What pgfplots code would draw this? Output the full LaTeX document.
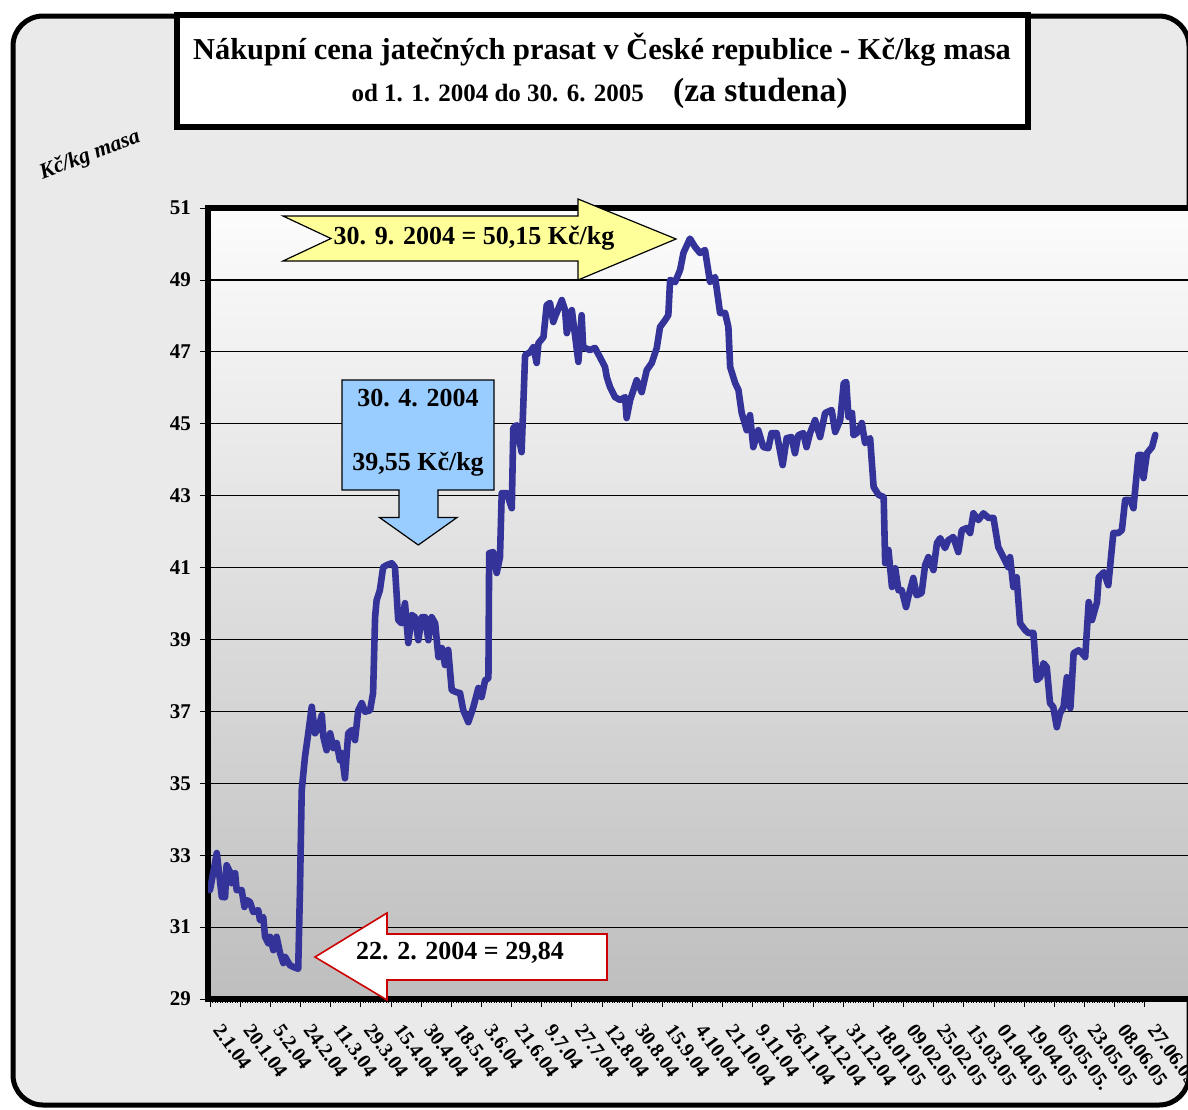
\documentclass[border=0pt]{standalone}
\usepackage{pgfplots}
\pgfplotsset{compat=1.18}
\usepackage{pgfplotstable}
\usepackage{fontspec}
\setmainfont{Liberation Serif}
\definecolor{linecol}{RGB}{51,51,153}
\definecolor{bgcol}{RGB}{234,234,234}
\definecolor{yel}{RGB}{255,255,153}
\definecolor{lblue}{RGB}{153,204,255}
\definecolor{redb}{RGB}{204,0,0}
\definecolor{plottop}{RGB}{252,252,252}
\definecolor{plotbot}{RGB}{190,190,190}

\pgfplotstableread{
idx val
0 32.03
2.7 33.06
4.7 31.84
6.0 31.83
6.6 32.72
8.0 32.53
8.6 32.22
10.0 32.50
10.6 32.03
12.6 32.03
13.7 31.56
14.6 31.75
15.9 31.70
17.2 31.42
19.2 31.47
19.9 31.19
21.2 31.28
21.9 30.73
23.2 30.55
23.9 30.73
25.2 30.36
26.5 30.73
27.9 30.27
29.2 30.00
29.9 30.17
31.8 29.94
33.2 29.89
35.1 29.84
35.8 32.03
36.5 34.81
37.8 35.74
39.1 36.39
40.5 37.13
41.8 36.39
43.1 36.53
44.5 36.90
45.1 36.29
46.4 35.92
47.8 36.39
49.1 35.98
50.4 36.12
51.7 35.64
52.4 35.84
53.7 35.14
55.0 36.39
56.4 36.48
57.7 36.20
59.0 37.03
60.4 37.23
61.7 36.99
63.7 37.03
64.9 37.51
65.7 39.62
66.3 40.09
67.6 40.37
68.9 41.01
70.4 41.07
72.3 41.12
73.6 41.01
74.9 39.54
76.3 39.45
77.6 40.01
78.9 38.90
80.3 39.68
81.6 39.62
82.9 38.98
84.3 39.62
85.6 39.62
86.9 38.98
88.2 39.62
89.6 39.45
90.9 38.51
92.3 38.76
93.5 38.29
94.8 38.71
96.2 37.59
98.2 37.53
99.5 37.51
100.8 37.03
102.8 36.70
104.8 37.12
106.8 37.65
108.1 37.40
109.5 37.87
110.8 37.92
111.1 41.40
112.7 41.43
114.1 40.85
115.4 41.29
116.1 43.07
118.1 43.07
120.1 42.65
120.7 44.88
122.0 44.96
124.0 44.21
125.4 46.91
127.4 46.99
128.7 47.13
130.0 46.69
130.7 47.24
132.7 47.41
134.0 48.30
135.3 48.36
136.6 47.83
137.3 47.97
140.0 48.44
141.3 48.16
142.0 47.52
144.0 48.16
146.6 46.72
147.9 48.02
148.5 47.13
151.2 47.05
153.2 47.11
155.2 46.85
157.2 46.58
157.9 46.30
159.2 46.02
161.2 45.74
163.2 45.66
165.2 45.74
165.8 45.16
167.2 45.66
169.8 46.21
171.8 45.88
173.8 46.49
175.8 46.69
177.8 47.11
179.1 47.69
181.1 47.88
182.4 48.02
183.1 49.00
185.1 48.94
187.1 49.28
188.4 49.75
191.0 50.15
193.0 49.92
195.0 49.75
197.0 49.83
199.0 48.94
201.0 49.08
203.0 48.08
205.0 48.08
206.3 47.69
207.0 46.58
209.0 46.13
210.3 45.94
211.6 45.30
213.6 44.82
214.9 45.24
216.2 44.35
218.2 44.82
220.2 44.35
222.2 44.32
223.5 44.74
225.5 44.74
227.9 43.85
229.5 44.60
231.4 44.63
232.8 44.18
234.1 44.68
236.1 44.74
237.4 44.35
238.8 44.74
240.8 45.10
242.8 44.63
244.8 45.30
247.4 45.38
248.8 44.77
250.8 45.10
252.2 46.13
253.2 46.16
254.1 45.19
255.5 45.30
256.1 44.68
257.4 44.74
259.4 45.02
260.7 44.46
262.7 44.60
264.1 43.24
266.1 43.02
268.1 42.96
268.7 41.12
270.0 41.49
271.4 40.46
272.7 40.98
274.0 40.37
275.3 40.37
277.0 39.90
277.9 40.18
279.9 40.71
281.2 40.23
283.2 40.29
284.6 41.07
285.9 41.29
287.9 40.93
289.3 41.68
290.6 41.82
292.5 41.54
293.8 41.76
295.8 41.85
297.8 41.43
299.2 42.04
301.2 42.10
302.5 41.96
303.8 42.51
305.8 42.32
307.8 42.51
309.8 42.38
311.8 42.38
313.7 41.57
315.7 41.29
317.7 41.01
318.4 41.29
319.7 40.46
321.0 40.73
322.4 39.45
324.4 39.26
325.7 39.18
327.7 39.18
329.0 37.87
330.4 37.95
331.7 38.34
333.0 38.23
334.3 37.23
335.6 37.12
337.0 36.56
338.3 36.95
339.7 37.12
341.0 37.95
342.4 37.09
343.7 38.62
345.7 38.70
347.0 38.62
348.3 38.51
349.7 40.04
351.0 39.54
353.0 40.04
353.7 40.73
355.7 40.87
357.5 40.51
359.5 41.96
361.5 41.96
362.9 42.04
364.2 42.88
366.2 42.88
367.5 42.65
369.5 44.13
370.8 44.13
371.5 43.49
372.9 44.18
374.9 44.35
376.2 44.69
}\pricedata

\begin{document}
\begin{tikzpicture}
\begin{scope}[x=0.5pt,y=-0.5pt]
\useasboundingbox (0,0) rectangle (1188,1109);
\clip (0,0) rectangle (1188,1109);
\fill[white] (0,0) rectangle (1188,1109);
\draw[line width=2.5pt, fill=bgcol, rounded corners=15pt] (13,16) rectangle (1189,1105);
\draw[line width=3pt, fill=white] (177,15) rectangle (1028,127);
\node[font=\fontsize{15.2}{18}\selectfont\bfseries] at (602,50) {Nákupní cena jatečných prasat v České republice - Kč/kg masa};
\node[anchor=base east, font=\fontsize{12.5}{15}\selectfont\bfseries] at (651,101) {od 1. 1. 2004 do 30. 6. 2005};
\node[anchor=base west, font=\fontsize{16.8}{20}\selectfont\bfseries] at (666,101) {(za studena)};
\node[rotate=21, font=\fontsize{11}{13}\selectfont\bfseries\itshape] at (90,155) {Kč/kg masa};
\end{scope}

\begin{axis}[
  at={(104pt,-499.5pt)}, anchor=south west,
  scale only axis, width=494pt, height=395.5pt,
  xmin=-0.8, xmax=392.4, ymin=29, ymax=51,
  ytick={29,31,...,51},
  xtick={0,12,...,372},
  xticklabels={2.1.04,20.1.04,5.2.04,24.2.04,11.3.04,29.3.04,15.4.04,30.4.04,18.5.04,3.6.04,21.6.04,9.7.04,27.7.04,12.8.04,30.8.04,15.9.04,4.10.04,21.10.04,9.11.04,26.11.04,14.12.04,31.12.04,18.01.05,09.02.05,25.02.05,15.03.05,01.04.05,19.04.05,05.05.05.,23.05.05,08.06.05,27.06.05},
  minor x tick num=11,
  ymajorgrids,
  major grid style={black, line width=0.6pt},
  axis line style={line width=3pt},
  tick style={black, line width=0.4pt},
  major tick length=4pt, minor tick length=2pt,
  tick align=outside,
  xtick pos=bottom, ytick pos=left,
  /pgf/number format/assume math mode=true,
  yticklabel style={font=\fontsize{10.5}{12}\selectfont\bfseries, xshift=-1pt},
  xticklabel style={font=\fontsize{10}{12}\selectfont\bfseries, rotate=-54, anchor=west, inner sep=1pt, xshift=9pt, yshift=-2.7pt},
  axis background/.style={top color=plottop, bottom color=plotbot},
]
\addplot[linecol, line width=3.3pt, line join=round, line cap=round] table {\pricedata};
\end{axis}

\begin{scope}[x=0.5pt,y=-0.5pt]
\clip (0,0) rectangle (1188,1109);
% yellow arrow
\draw[fill=yel, line width=0.6pt] (283,216) -- (578,216) -- (578,199) -- (676,239) -- (578,280) -- (578,261) -- (283,261) -- (331,238.5) -- cycle;
\node[font=\fontsize{13}{15}\selectfont\bfseries] at (474,238) {30. 9. 2004 = 50,15 Kč/kg};
% blue callout
\draw[fill=lblue, line width=0.6pt] (342,380) -- (494,380) -- (494,490) -- (438,490) -- (438,517.5) -- (457,517.5) -- (418.3,545) -- (379.5,517.5) -- (399,517.5) -- (399,490) -- (342,490) -- cycle;
\node[font=\fontsize{13}{15}\selectfont\bfseries] at (418,398) {30. 4. 2004};
\node[font=\fontsize{13}{15}\selectfont\bfseries] at (418,464) {39,55 Kč/kg};
% white arrow
\draw[fill=white, draw=redb, line width=0.8pt] (315,957) -- (387,913) -- (387,934) -- (607,934) -- (607,980) -- (387,980) -- (387,1000) -- cycle;
\node[font=\fontsize{13}{15}\selectfont\bfseries] at (460,953) {22. 2. 2004 = 29,84};
\end{scope}
\pgfresetboundingbox
\path[use as bounding box] (0,0) rectangle (594pt,-554.5pt);
\end{tikzpicture}
\end{document}
